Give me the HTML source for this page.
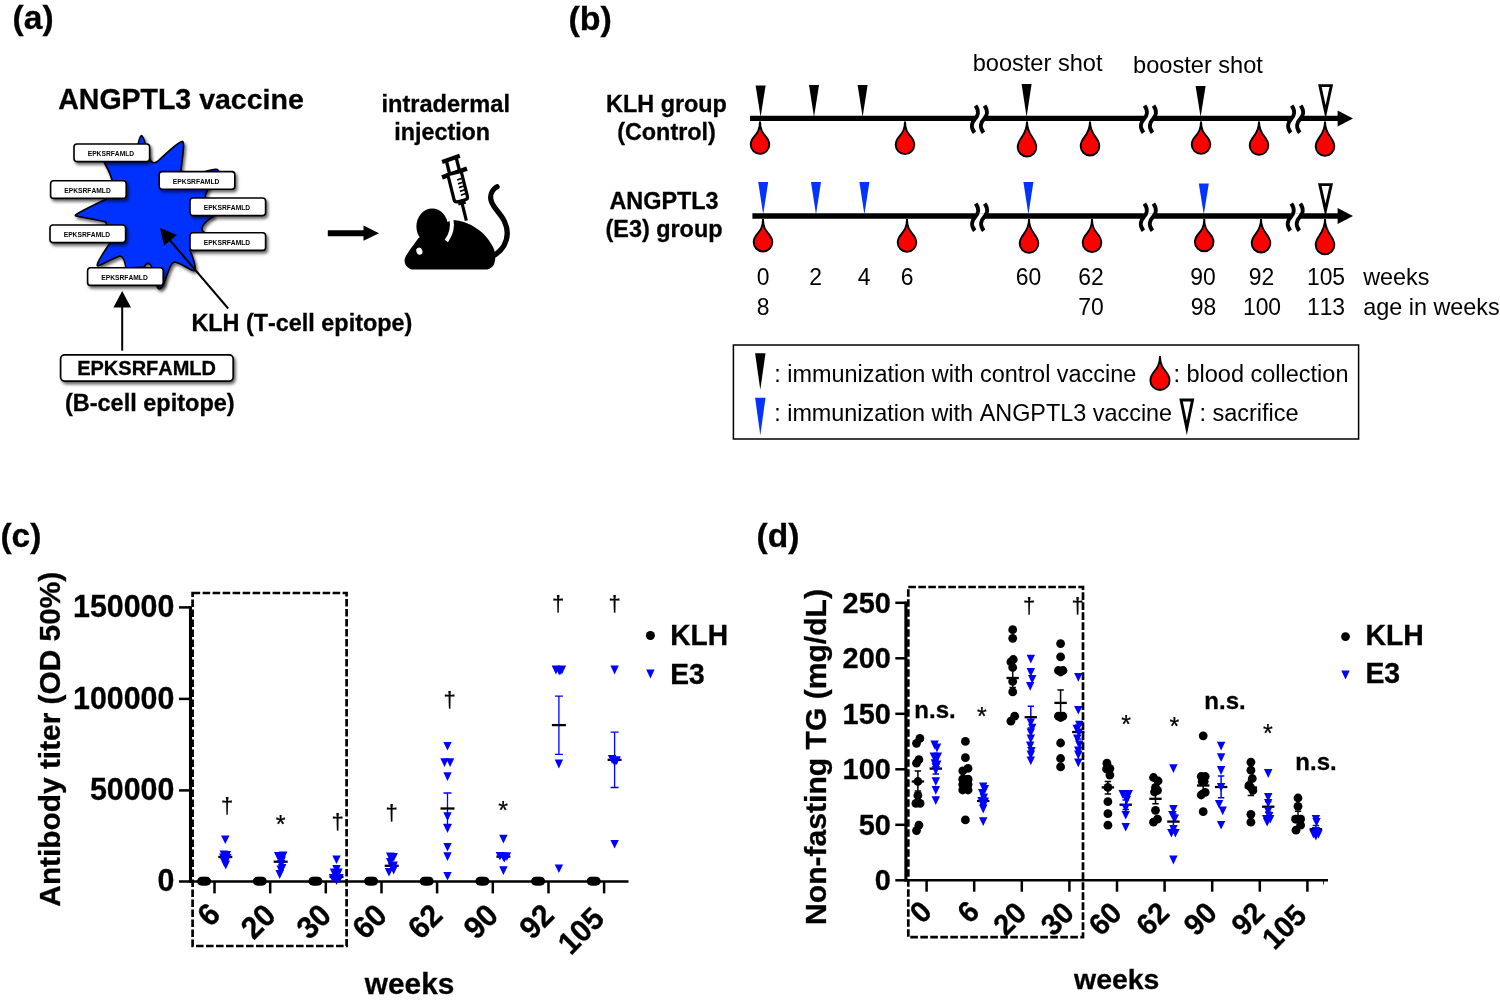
<!DOCTYPE html>
<html lang="en"><head><meta charset="utf-8"><title>ANGPTL3 vaccine figure</title>
<style>html,body{margin:0;padding:0;background:#fff;}body{width:1500px;height:1006px;overflow:hidden;}svg{display:block;font-kerning:none;font-family:'Liberation Sans', Arial, Helvetica, sans-serif;}.b{stroke:#000;stroke-width:0.3px;}.t{stroke:#000;stroke-width:0.25px;}</style></head><body>
<svg width="1500" height="1006" viewBox="0 0 1500 1006">
<defs><filter id="sh" x="-20%" y="-30%" width="150%" height="180%"><feDropShadow dx="1.8" dy="2.4" stdDeviation="1.8" flood-color="#000" flood-opacity="0.6"/></filter></defs>
<rect width="1500" height="1006" fill="#fff"/>
<g id="panel-a">
<text x="12.6" y="28.8" font-size="33.5" font-weight="700" class="b" text-anchor="start">(a)</text>
<text transform="translate(58.25,109.4) scale(1,1.04)" font-size="28.5" font-weight="700" class="b" text-anchor="start">ANGPTL3</text>
<text x="191.26" y="109.4" font-size="28.5" font-weight="700" class="b" text-anchor="start">&#160;vaccine</text>
<text x="445.7" y="111.7" font-size="23.6" font-weight="700" class="b" text-anchor="middle">intradermal</text>
<text x="442.2" y="139.5" font-size="23.3" font-weight="700" class="b" text-anchor="middle">injection</text>
<path filter="url(#sh)" fill="#0430ff" stroke="#000" stroke-width="1.6" stroke-linejoin="round" d="M141.6,135.6 C143.5,136 146,145 149,158 C151,163 154,164 158,161 C166,154 176,143 182,141.4 C185,141 183,152 181,170 L186,178 L204,172 C209,170.4 215,168.6 217.4,169.6 C219.4,170.6 218,173 214,175 L205,196 L214,216 C209,219 203,224 202,228 C201,232 206,234 212,236 L190,250 C192,256 196,264 195,270 C193,273 184,264 175,262 C171,262 169,270 164,283 C162,289 158,291 157,286 L152,268 C150,262 147,262 144,267 L126,268 C125,262 123,256 120,256 C113,258 104,264 98,266 C95,266 101,256 110,243 L106,222 C98,220 80,217 76,216 C73,215 80,212 106,199 L112,180 C110,172 106,166 104,162 L136,160 C137,150 139,136 141.6,135.6 Z"/>
<rect filter="url(#sh)" x="74" y="144" width="75.6" height="17.6" rx="3" ry="3" fill="#fff" stroke="#000" stroke-width="1.6"/>
<text transform="translate(110.9,155.9) scale(1,1.04)" font-size="6.7" font-weight="700" text-anchor="middle" class="n">EPKSRFAMLD</text>
<rect filter="url(#sh)" x="50.6" y="180.8" width="75.6" height="17.6" rx="3" ry="3" fill="#fff" stroke="#000" stroke-width="1.6"/>
<text transform="translate(87.5,192.70000000000002) scale(1,1.04)" font-size="6.7" font-weight="700" text-anchor="middle" class="n">EPKSRFAMLD</text>
<rect filter="url(#sh)" x="50" y="225" width="75.6" height="17.6" rx="3" ry="3" fill="#fff" stroke="#000" stroke-width="1.6"/>
<text transform="translate(86.9,236.9) scale(1,1.04)" font-size="6.7" font-weight="700" text-anchor="middle" class="n">EPKSRFAMLD</text>
<rect filter="url(#sh)" x="87.6" y="267.8" width="75.6" height="17.6" rx="3" ry="3" fill="#fff" stroke="#000" stroke-width="1.6"/>
<text transform="translate(124.5,279.7) scale(1,1.04)" font-size="6.7" font-weight="700" text-anchor="middle" class="n">EPKSRFAMLD</text>
<rect filter="url(#sh)" x="159.2" y="171.6" width="75.6" height="17.6" rx="3" ry="3" fill="#fff" stroke="#000" stroke-width="1.6"/>
<text transform="translate(196.1,183.5) scale(1,1.04)" font-size="6.7" font-weight="700" text-anchor="middle" class="n">EPKSRFAMLD</text>
<rect filter="url(#sh)" x="190" y="198" width="75.6" height="17.6" rx="3" ry="3" fill="#fff" stroke="#000" stroke-width="1.6"/>
<text transform="translate(226.9,209.9) scale(1,1.04)" font-size="6.7" font-weight="700" text-anchor="middle" class="n">EPKSRFAMLD</text>
<rect filter="url(#sh)" x="190" y="232.8" width="75.6" height="17.6" rx="3" ry="3" fill="#fff" stroke="#000" stroke-width="1.6"/>
<text transform="translate(226.9,244.70000000000002) scale(1,1.04)" font-size="6.7" font-weight="700" text-anchor="middle" class="n">EPKSRFAMLD</text>
<rect filter="url(#sh)" x="60.6" y="354.9" width="172.6" height="26.2" rx="4" ry="4" fill="#fff" stroke="#000" stroke-width="1.7"/>
<text transform="translate(146.6,375) scale(1,1.04)" font-size="20" font-weight="700" class="b" text-anchor="middle">EPKSRFAMLD</text>
<text x="149.8" y="411.2" font-size="23.5" font-weight="700" class="b" text-anchor="middle">(B-cell epitope)</text>
<text transform="translate(191.4,331) scale(1,1.04)" font-size="23.4" font-weight="700" class="b" text-anchor="start">KLH</text>
<text x="239.49" y="331" font-size="23.4" font-weight="700" class="b" text-anchor="start">&#160;(T-cell&#160;epitope)</text>
<path d="M122.2,350.6 L122.2,305" stroke="#000" stroke-width="2" fill="none"/>
<path d="M122.2,291 L131,307.6 L113.4,307.6 Z" fill="#000"/>
<path d="M228.2,308.5 L168,238" stroke="#000" stroke-width="2" fill="none"/>
<path d="M160,228 L177,235 L164,245.6 Z" fill="#000"/>
<path d="M327.8,233.2 L365,233.2" stroke="#000" stroke-width="6" fill="none"/>
<path d="M379,233.2 L363.5,225.6 L363.5,240.8 Z" fill="#000"/>
<g id="mouse">
<path d="M497,186.8 C491.5,190 489.6,196 491.4,201.5 C493.5,208 501,214 504.5,221.5 C508,229 508,238 504,245.5 C501.5,250 497.5,253.5 492,256.5" fill="none" stroke="#000" stroke-width="5.3" stroke-linecap="round"/>
<path d="M452.2,220 C470,221 486,232 493.5,248 C496,254 496,262 493,266 C491,268.5 488,269.6 485,269.6 L414,269.6 C408,269.6 403,264 405,258 C407,253 413,246 418.5,238 L440,225 Z" fill="#000"/>
<path d="M451.4,219 C453,227 451.4,234 446.4,241" fill="none" stroke="#fff" stroke-width="4"/>
<ellipse cx="432.2" cy="226.4" rx="15.8" ry="18" fill="#000"/>
<ellipse cx="419.4" cy="251.2" rx="3" ry="3.6" fill="#fff" transform="rotate(-20 419.4 251.2)"/>
<g transform="translate(454.5,173) rotate(-14)">
<rect x="-9.4" y="-16.7" width="18.8" height="4.1" fill="#000" transform="rotate(-5.5 0.5 -14.6)"/>
<rect x="-6.6" y="-14" width="3.3" height="13" fill="#000"/>
<rect x="3.7" y="-15" width="3.3" height="14" fill="#000"/>
<rect x="-13.2" y="-2.2" width="26.4" height="4.4" fill="#000" transform="rotate(-5 0 0)"/>
<path d="M-6.9,0 L-6.9,25.6 Q-6.9,28.6 -3.9,28.6 L3.9,28.6 Q6.9,28.6 6.9,25.6 L6.9,0 Z" fill="#fff" stroke="#000" stroke-width="3.2"/>
<rect x="0.8" y="6.4" width="5" height="1.7" fill="#000" transform="rotate(-5 3.3 7.2)"/>
<rect x="0.8" y="10.3" width="5" height="1.7" fill="#000" transform="rotate(-5 3.3 11.1)"/>
<rect x="0.8" y="14.2" width="5" height="1.7" fill="#000" transform="rotate(-5 3.3 15.0)"/>
<rect x="0.8" y="18.1" width="5" height="1.7" fill="#000" transform="rotate(-5 3.3 18.9)"/>
<rect x="0.8" y="22.0" width="5" height="1.7" fill="#000" transform="rotate(-5 3.3 22.8)"/>
<rect x="-3.8" y="29" width="7.6" height="3.6" fill="#000"/>
<rect x="-1.6" y="32" width="3.2" height="17" fill="#000"/>
</g>
</g>
</g>
<g id="panel-b">
<text x="568.4" y="29.6" font-size="34" font-weight="700" class="b" text-anchor="start">(b)</text>
<text x="1037.6" y="71" font-size="23.6" text-anchor="middle">booster shot</text>
<text x="1198" y="73" font-size="23.6" text-anchor="middle">booster shot</text>
<text transform="translate(606.06,112.4) scale(1,1.04)" font-size="23.4" font-weight="700" class="b" text-anchor="start">KLH</text>
<text x="654.15" y="112.4" font-size="23.4" font-weight="700" class="b" text-anchor="start">&#160;group</text>
<text x="666.5" y="139.6" font-size="23.4" font-weight="700" class="b" text-anchor="middle">(Control)</text>
<text transform="translate(664,209) scale(1,1.04)" font-size="23.4" font-weight="700" class="b" text-anchor="middle">ANGPTL3</text>
<text x="664" y="237" font-size="23.4" font-weight="700" class="b" text-anchor="middle">(E3) group</text>
<path d="M750,118.4 L1340,118.4" stroke="#000" stroke-width="5.4" fill="none"/>
<path d="M1353,118.4 L1337.6,110.4 L1337.6,126.4 Z" fill="#000"/>
<path d="M752.4,216 L1340,216" stroke="#000" stroke-width="5.4" fill="none"/>
<path d="M1353,216 L1337.6,208 L1337.6,224 Z" fill="#000"/>
<rect x="974.9" y="115.2" width="9" height="8" fill="#fff"/>
<path d="M975.5,105.6 C979.5,111.2 977.9,116.2 974.9,119.2 C971.9,122.2 970.3,127.2 974.5,132.7" fill="none" stroke="#000" stroke-width="4"/>
<path d="M984.5,105.6 C988.5,111.2 986.9,116.2 983.9,119.2 C980.9,122.2 979.3,127.2 983.5,132.7" fill="none" stroke="#000" stroke-width="4"/>
<rect x="1143.9" y="115.2" width="9" height="8" fill="#fff"/>
<path d="M1144.5,105.6 C1148.5,111.2 1146.9,116.2 1143.9,119.2 C1140.9,122.2 1139.3,127.2 1143.5,132.7" fill="none" stroke="#000" stroke-width="4"/>
<path d="M1153.5,105.6 C1157.5,111.2 1155.9,116.2 1152.9,119.2 C1149.9,122.2 1148.3,127.2 1152.5,132.7" fill="none" stroke="#000" stroke-width="4"/>
<rect x="1291.1" y="115.2" width="9" height="8" fill="#fff"/>
<path d="M1291.7,105.6 C1295.7,111.2 1294.1,116.2 1291.1,119.2 C1288.1,122.2 1286.5,127.2 1290.7,132.7" fill="none" stroke="#000" stroke-width="4"/>
<path d="M1300.7,105.6 C1304.7,111.2 1303.1,116.2 1300.1,119.2 C1297.1,122.2 1295.5,127.2 1299.7,132.7" fill="none" stroke="#000" stroke-width="4"/>
<rect x="975.1" y="213.2" width="9" height="8" fill="#fff"/>
<path d="M975.7,203.6 C979.7,209.2 978.1,214.2 975.1,217.2 C972.1,220.2 970.5,225.2 974.7,230.7" fill="none" stroke="#000" stroke-width="4"/>
<path d="M984.7,203.6 C988.7,209.2 987.1,214.2 984.1,217.2 C981.1,220.2 979.5,225.2 983.7,230.7" fill="none" stroke="#000" stroke-width="4"/>
<rect x="1143.8" y="213.2" width="9" height="8" fill="#fff"/>
<path d="M1144.4,203.6 C1148.4,209.2 1146.8,214.2 1143.8,217.2 C1140.8,220.2 1139.2,225.2 1143.4,230.7" fill="none" stroke="#000" stroke-width="4"/>
<path d="M1153.4,203.6 C1157.4,209.2 1155.8,214.2 1152.8,217.2 C1149.8,220.2 1148.2,225.2 1152.4,230.7" fill="none" stroke="#000" stroke-width="4"/>
<rect x="1290.7" y="213.2" width="9" height="8" fill="#fff"/>
<path d="M1291.3,203.6 C1295.3,209.2 1293.7,214.2 1290.7,217.2 C1287.7,220.2 1286.1,225.2 1290.3,230.7" fill="none" stroke="#000" stroke-width="4"/>
<path d="M1300.3,203.6 C1304.3,209.2 1302.7,214.2 1299.7,217.2 C1296.7,220.2 1295.1,225.2 1299.3,230.7" fill="none" stroke="#000" stroke-width="4"/>
<path d="M755.6,85.4 L765.6,85.4 L760.6,117 Z" fill="#000"/>
<path d="M809.0,85 L819.0,85 L814,117 Z" fill="#000"/>
<path d="M857.6,85 L867.6,85 L862.6,117 Z" fill="#000"/>
<path d="M1021.5999999999999,84 L1031.6,84 L1026.6,117 Z" fill="#000"/>
<path d="M1195.6,86 L1205.6,86 L1200.6,117 Z" fill="#000"/>
<path d="M1318.10,84.20 L1333.10,84.20 L1325.60,119.00 Z" fill="#000"/>
<path d="M1321.69,87.10 L1329.51,87.10 L1325.60,105.24 Z" fill="#fff"/>
<path d="M758.2,182 L768.2,182 L763.2,214.6 Z" fill="#0433ff"/>
<path d="M811.0,182 L821.0,182 L816,214.6 Z" fill="#0433ff"/>
<path d="M859.4,182 L869.4,182 L864.4,214.6 Z" fill="#0433ff"/>
<path d="M1023.4000000000001,182 L1033.4,182 L1028.4,214.6 Z" fill="#0433ff"/>
<path d="M1198.8,183.6 L1208.8,183.6 L1203.8,214.6 Z" fill="#0433ff"/>
<path d="M1318.00,183.20 L1333.00,183.20 L1325.50,217.00 Z" fill="#000"/>
<path d="M1321.61,186.10 L1329.39,186.10 L1325.50,203.61 Z" fill="#fff"/>
<path d="M760,121.5 C760,136.5 750.7,135.1 750.7,144.6 A9.3,9.3 0 0 0 769.3,144.6 C769.3,135.1 760,136.5 760,121.5 Z" fill="#ff0000" stroke="#000" stroke-width="1.9" stroke-linejoin="miter" stroke-miterlimit="10"/>
<path d="M905,121.5 C905,136.5 895.7,135.3 895.7,144.8 A9.3,9.3 0 0 0 914.3,144.8 C914.3,135.3 905,136.5 905,121.5 Z" fill="#ff0000" stroke="#000" stroke-width="1.9" stroke-linejoin="miter" stroke-miterlimit="10"/>
<path d="M1027,121.5 C1027,136.5 1017.7,137.7 1017.7,147.2 A9.3,9.3 0 0 0 1036.3,147.2 C1036.3,137.7 1027,136.5 1027,121.5 Z" fill="#ff0000" stroke="#000" stroke-width="1.9" stroke-linejoin="miter" stroke-miterlimit="10"/>
<path d="M1090,121.5 C1090,136.5 1080.7,136.7 1080.7,146.2 A9.3,9.3 0 0 0 1099.3,146.2 C1099.3,136.7 1090,136.5 1090,121.5 Z" fill="#ff0000" stroke="#000" stroke-width="1.9" stroke-linejoin="miter" stroke-miterlimit="10"/>
<path d="M1201,121.5 C1201,136.5 1191.7,135.1 1191.7,144.6 A9.3,9.3 0 0 0 1210.3,144.6 C1210.3,135.1 1201,136.5 1201,121.5 Z" fill="#ff0000" stroke="#000" stroke-width="1.9" stroke-linejoin="miter" stroke-miterlimit="10"/>
<path d="M1259,121.5 C1259,136.5 1249.7,136.1 1249.7,145.6 A9.3,9.3 0 0 0 1268.3,145.6 C1268.3,136.1 1259,136.5 1259,121.5 Z" fill="#ff0000" stroke="#000" stroke-width="1.9" stroke-linejoin="miter" stroke-miterlimit="10"/>
<path d="M1325,121.5 C1325,136.5 1315.7,137.1 1315.7,146.6 A9.3,9.3 0 0 0 1334.3,146.6 C1334.3,137.1 1325,136.5 1325,121.5 Z" fill="#ff0000" stroke="#000" stroke-width="1.9" stroke-linejoin="miter" stroke-miterlimit="10"/>
<path d="M763,219 C763,234.0 753.7,232.7 753.7,242.2 A9.3,9.3 0 0 0 772.3,242.2 C772.3,232.7 763,234.0 763,219 Z" fill="#ff0000" stroke="#000" stroke-width="1.9" stroke-linejoin="miter" stroke-miterlimit="10"/>
<path d="M907,219 C907,234.0 897.7,233.1 897.7,242.6 A9.3,9.3 0 0 0 916.3,242.6 C916.3,233.1 907,234.0 907,219 Z" fill="#ff0000" stroke="#000" stroke-width="1.9" stroke-linejoin="miter" stroke-miterlimit="10"/>
<path d="M1029,219 C1029,234.0 1019.7,234.1 1019.7,243.6 A9.3,9.3 0 0 0 1038.3,243.6 C1038.3,234.1 1029,234.0 1029,219 Z" fill="#ff0000" stroke="#000" stroke-width="1.9" stroke-linejoin="miter" stroke-miterlimit="10"/>
<path d="M1092,219 C1092,234.0 1082.7,233.3 1082.7,242.8 A9.3,9.3 0 0 0 1101.3,242.8 C1101.3,233.3 1092,234.0 1092,219 Z" fill="#ff0000" stroke="#000" stroke-width="1.9" stroke-linejoin="miter" stroke-miterlimit="10"/>
<path d="M1204.2,219 C1204.2,234.0 1194.9,232.5 1194.9,242.0 A9.3,9.3 0 0 0 1213.5,242.0 C1213.5,232.5 1204.2,234.0 1204.2,219 Z" fill="#ff0000" stroke="#000" stroke-width="1.9" stroke-linejoin="miter" stroke-miterlimit="10"/>
<path d="M1261,219 C1261,234.0 1251.7,233.7 1251.7,243.2 A9.3,9.3 0 0 0 1270.3,243.2 C1270.3,233.7 1261,234.0 1261,219 Z" fill="#ff0000" stroke="#000" stroke-width="1.9" stroke-linejoin="miter" stroke-miterlimit="10"/>
<path d="M1325,219 C1325,234.0 1315.7,235.5 1315.7,245.0 A9.3,9.3 0 0 0 1334.3,245.0 C1334.3,235.5 1325,234.0 1325,219 Z" fill="#ff0000" stroke="#000" stroke-width="1.9" stroke-linejoin="miter" stroke-miterlimit="10"/>
<text transform="translate(763,285.2) scale(1,1.04)" font-size="22.9" text-anchor="middle">0</text>
<text transform="translate(815.6,285.2) scale(1,1.04)" font-size="22.9" text-anchor="middle">2</text>
<text transform="translate(864,285.2) scale(1,1.04)" font-size="22.9" text-anchor="middle">4</text>
<text transform="translate(907,285.2) scale(1,1.04)" font-size="22.9" text-anchor="middle">6</text>
<text transform="translate(1028.4,285.2) scale(1,1.04)" font-size="22.9" text-anchor="middle">60</text>
<text transform="translate(1091,285.2) scale(1,1.04)" font-size="22.9" text-anchor="middle">62</text>
<text transform="translate(1203,285.2) scale(1,1.04)" font-size="22.9" text-anchor="middle">90</text>
<text transform="translate(1261.6,285.2) scale(1,1.04)" font-size="22.9" text-anchor="middle">92</text>
<text transform="translate(1326,285.2) scale(1,1.04)" font-size="22.9" text-anchor="middle">105</text>
<text transform="translate(763,315.2) scale(1,1.04)" font-size="22.9" text-anchor="middle">8</text>
<text transform="translate(1091,315.2) scale(1,1.04)" font-size="22.9" text-anchor="middle">70</text>
<text transform="translate(1203.4,315.2) scale(1,1.04)" font-size="22.9" text-anchor="middle">98</text>
<text transform="translate(1262,315.2) scale(1,1.04)" font-size="22.9" text-anchor="middle">100</text>
<text transform="translate(1326,315.2) scale(1,1.04)" font-size="22.9" text-anchor="middle">113</text>
<text x="1363.2" y="285" font-size="23.4" text-anchor="start">weeks</text>
<text x="1363.2" y="315" font-size="23.4" text-anchor="start">age in weeks</text>
<rect x="733.4" y="345" width="625.2" height="94" fill="#fff" stroke="#000" stroke-width="1.5"/>
<path d="M755.0999999999999,353.2 L765.5,353.2 L760.3,389.8 Z" fill="#000"/>
<path d="M755.0999999999999,397.8 L765.5,397.8 L760.3,435.2 Z" fill="#0433ff"/>
<text x="774.2" y="381.8" font-size="23.45" text-anchor="start">: immunization with control vaccine</text>
<text x="774.2" y="420.6" font-size="23.4" text-anchor="start">:&#160;immunization&#160;with&#160;</text>
<text transform="translate(979.67,420.6) scale(1,1.04)" font-size="23.4" text-anchor="start">ANGPTL3</text>
<text x="1086.31" y="420.6" font-size="23.4" text-anchor="start">&#160;vaccine</text>
<path d="M1160,356 C1160,371.0 1150.4,370.9 1150.4,380.4 A9.6,9.6 0 0 0 1169.6,380.4 C1169.6,370.9 1160,371.0 1160,356 Z" fill="#ff0000" stroke="#000" stroke-width="1.9" stroke-linejoin="miter" stroke-miterlimit="10"/>
<text x="1173.4" y="382.4" font-size="23.5" text-anchor="start">: blood collection</text>
<path d="M1179.30,398.60 L1194.30,398.60 L1186.80,435.20 Z" fill="#000"/>
<path d="M1182.85,401.50 L1190.75,401.50 L1186.80,420.75 Z" fill="#fff"/>
<text x="1199.4" y="420.6" font-size="23.5" text-anchor="start">: sacrifice</text>
</g>
<g id="panel-c">
<text x="0.4" y="546.6" font-size="33.5" font-weight="700" class="b" text-anchor="start">(c)</text>
<path d="M190.5,606.2 L190.5,882.75" stroke="#000" stroke-width="3.1" fill="none"/>
<path d="M189.55,881.5 L628.5,881.5" stroke="#000" stroke-width="2.6" fill="none"/>
<path d="M179,607.4 L190.8,607.4" stroke="#000" stroke-width="2.5"/>
<text transform="translate(174.4,617.3) scale(1,1.04)" font-size="30.4" font-weight="700" text-anchor="end" class="b">150000</text>
<path d="M179,698.9 L190.8,698.9" stroke="#000" stroke-width="2.5"/>
<text transform="translate(174.4,708.8) scale(1,1.04)" font-size="30.4" font-weight="700" text-anchor="end" class="b">100000</text>
<path d="M179,790.4 L190.8,790.4" stroke="#000" stroke-width="2.5"/>
<text transform="translate(174.4,800.3) scale(1,1.04)" font-size="30.4" font-weight="700" text-anchor="end" class="b">50000</text>
<path d="M179,881.5 L190.8,881.5" stroke="#000" stroke-width="2.5"/>
<text transform="translate(174.4,891.4) scale(1,1.04)" font-size="30.4" font-weight="700" text-anchor="end" class="b">0</text>
<path d="M214.5,881.5 L214.5,893.4" stroke="#000" stroke-width="2.5"/>
<text class="b" transform="translate(208.5,914.5) rotate(-45) translate(0,10.7) scale(1,1.04)" font-size="30" font-weight="700" text-anchor="middle">6</text>
<path d="M270.2,881.5 L270.2,893.4" stroke="#000" stroke-width="2.5"/>
<text class="b" transform="translate(258.1,921.4) rotate(-45) translate(0,10.7) scale(1,1.04)" font-size="30" font-weight="700" text-anchor="middle">20</text>
<path d="M325.8,881.5 L325.8,893.4" stroke="#000" stroke-width="2.5"/>
<text class="b" transform="translate(313.7,921.4) rotate(-45) translate(0,10.7) scale(1,1.04)" font-size="30" font-weight="700" text-anchor="middle">30</text>
<path d="M381.5,881.5 L381.5,893.4" stroke="#000" stroke-width="2.5"/>
<text class="b" transform="translate(369.4,921.4) rotate(-45) translate(0,10.7) scale(1,1.04)" font-size="30" font-weight="700" text-anchor="middle">60</text>
<path d="M437.1,881.5 L437.1,893.4" stroke="#000" stroke-width="2.5"/>
<text class="b" transform="translate(425.0,921.4) rotate(-45) translate(0,10.7) scale(1,1.04)" font-size="30" font-weight="700" text-anchor="middle">62</text>
<path d="M492.8,881.5 L492.8,893.4" stroke="#000" stroke-width="2.5"/>
<text class="b" transform="translate(480.7,921.4) rotate(-45) translate(0,10.7) scale(1,1.04)" font-size="30" font-weight="700" text-anchor="middle">90</text>
<path d="M548.5,881.5 L548.5,893.4" stroke="#000" stroke-width="2.5"/>
<text class="b" transform="translate(536.4,921.4) rotate(-45) translate(0,10.7) scale(1,1.04)" font-size="30" font-weight="700" text-anchor="middle">92</text>
<path d="M604.1,881.5 L604.1,893.4" stroke="#000" stroke-width="2.5"/>
<text class="b" transform="translate(580.9,930.7) rotate(-45) translate(0,10.7) scale(1,1.04)" font-size="30" font-weight="700" text-anchor="middle">105</text>
<text class="b" transform="translate(59.6,739.2) rotate(-90)" font-size="29.85" font-weight="700" text-anchor="middle">Antibody titer (OD 50%)</text>
<text x="409.6" y="994.3" font-size="29.8" font-weight="700" text-anchor="middle" class="b">weeks</text>
<circle cx="650.4" cy="635.5" r="4.5" fill="#000"/>
<text transform="translate(670.2,645.3) scale(1,1.04)" font-size="28.2" font-weight="700" text-anchor="start" class="b">KLH</text>
<path d="M646.2,669.6 L654.6,669.6 L650.4,678.4 Z" fill="#0000ff"/>
<text transform="translate(670.2,683.5) scale(1,1.04)" font-size="28.2" font-weight="700" text-anchor="start" class="b">E3</text>
<circle cx="201.5" cy="881.2" r="4.4" fill="#000"/>
<circle cx="202.9" cy="881.2" r="4.4" fill="#000"/>
<circle cx="204.1" cy="881.2" r="4.4" fill="#000"/>
<circle cx="205.3" cy="881.2" r="4.4" fill="#000"/>
<circle cx="206.7" cy="881.2" r="4.4" fill="#000"/>
<circle cx="257.2" cy="881.2" r="4.4" fill="#000"/>
<circle cx="258.6" cy="881.2" r="4.4" fill="#000"/>
<circle cx="259.8" cy="881.2" r="4.4" fill="#000"/>
<circle cx="261.0" cy="881.2" r="4.4" fill="#000"/>
<circle cx="262.4" cy="881.2" r="4.4" fill="#000"/>
<circle cx="312.8" cy="881.2" r="4.4" fill="#000"/>
<circle cx="314.2" cy="881.2" r="4.4" fill="#000"/>
<circle cx="315.4" cy="881.2" r="4.4" fill="#000"/>
<circle cx="316.6" cy="881.2" r="4.4" fill="#000"/>
<circle cx="318.0" cy="881.2" r="4.4" fill="#000"/>
<circle cx="368.5" cy="881.2" r="4.4" fill="#000"/>
<circle cx="369.9" cy="881.2" r="4.4" fill="#000"/>
<circle cx="371.1" cy="881.2" r="4.4" fill="#000"/>
<circle cx="372.3" cy="881.2" r="4.4" fill="#000"/>
<circle cx="373.7" cy="881.2" r="4.4" fill="#000"/>
<circle cx="424.1" cy="881.2" r="4.4" fill="#000"/>
<circle cx="425.5" cy="881.2" r="4.4" fill="#000"/>
<circle cx="426.7" cy="881.2" r="4.4" fill="#000"/>
<circle cx="427.9" cy="881.2" r="4.4" fill="#000"/>
<circle cx="429.3" cy="881.2" r="4.4" fill="#000"/>
<circle cx="479.8" cy="881.2" r="4.4" fill="#000"/>
<circle cx="481.2" cy="881.2" r="4.4" fill="#000"/>
<circle cx="482.4" cy="881.2" r="4.4" fill="#000"/>
<circle cx="483.6" cy="881.2" r="4.4" fill="#000"/>
<circle cx="485.0" cy="881.2" r="4.4" fill="#000"/>
<circle cx="535.5" cy="881.2" r="4.4" fill="#000"/>
<circle cx="536.9" cy="881.2" r="4.4" fill="#000"/>
<circle cx="538.1" cy="881.2" r="4.4" fill="#000"/>
<circle cx="539.3" cy="881.2" r="4.4" fill="#000"/>
<circle cx="540.7" cy="881.2" r="4.4" fill="#000"/>
<circle cx="591.1" cy="881.2" r="4.4" fill="#000"/>
<circle cx="592.5" cy="881.2" r="4.4" fill="#000"/>
<circle cx="593.7" cy="881.2" r="4.4" fill="#000"/>
<circle cx="594.9" cy="881.2" r="4.4" fill="#000"/>
<circle cx="596.3" cy="881.2" r="4.4" fill="#000"/>
<path d="M218.3,857.0 L232.3,857.0" stroke="#000" stroke-width="2.3" fill="none"/>
<path d="M221.1,835.4 L229.5,835.4 L225.3,844.1 Z" fill="#0000ff"/>
<path d="M219.6,850.6 L228.0,850.6 L223.8,859.4 Z" fill="#0000ff"/>
<path d="M222.6,851.1 L231.0,851.1 L226.8,859.9 Z" fill="#0000ff"/>
<path d="M219.1,853.6 L227.5,853.6 L223.3,862.4 Z" fill="#0000ff"/>
<path d="M223.1,854.1 L231.5,854.1 L227.3,862.9 Z" fill="#0000ff"/>
<path d="M221.1,856.1 L229.5,856.1 L225.3,864.9 Z" fill="#0000ff"/>
<path d="M220.1,858.1 L228.5,858.1 L224.3,866.9 Z" fill="#0000ff"/>
<path d="M221.6,860.6 L230.0,860.6 L225.8,869.4 Z" fill="#0000ff"/>
<text x="227.0" y="813.2" font-size="22" text-anchor="middle" class="t">&#8224;</text>
<path d="M273.7,861.7 L287.7,861.7" stroke="#000" stroke-width="2.3" fill="none"/>
<path d="M274.0,852.1 L282.4,852.1 L278.2,860.9 Z" fill="#0000ff"/>
<path d="M279.0,851.6 L287.4,851.6 L283.2,860.4 Z" fill="#0000ff"/>
<path d="M276.5,854.1 L284.9,854.1 L280.7,862.9 Z" fill="#0000ff"/>
<path d="M277.5,856.6 L285.9,856.6 L281.7,865.4 Z" fill="#0000ff"/>
<path d="M277.0,860.1 L285.4,860.1 L281.2,868.9 Z" fill="#0000ff"/>
<path d="M278.0,864.1 L286.4,864.1 L282.2,872.9 Z" fill="#0000ff"/>
<path d="M275.5,870.1 L283.9,870.1 L279.7,878.9 Z" fill="#0000ff"/>
<path d="M276.5,865.6 L284.9,865.6 L280.7,874.4 Z" fill="#0000ff"/>
<text x="280.5" y="832.8" font-size="25" text-anchor="middle" class="t">*</text>
<path d="M329.5,877.0 L343.5,877.0" stroke="#000" stroke-width="2.3" fill="none"/>
<path d="M332.3,855.4 L340.7,855.4 L336.5,864.1 Z" fill="#0000ff"/>
<path d="M332.3,865.1 L340.7,865.1 L336.5,873.9 Z" fill="#0000ff"/>
<path d="M329.8,868.6 L338.2,868.6 L334.0,877.4 Z" fill="#0000ff"/>
<path d="M334.3,868.6 L342.7,868.6 L338.5,877.4 Z" fill="#0000ff"/>
<path d="M331.8,872.1 L340.2,872.1 L336.0,880.9 Z" fill="#0000ff"/>
<path d="M328.8,874.1 L337.2,874.1 L333.0,882.9 Z" fill="#0000ff"/>
<path d="M335.3,874.1 L343.7,874.1 L339.5,882.9 Z" fill="#0000ff"/>
<path d="M332.3,876.1 L340.7,876.1 L336.5,884.9 Z" fill="#0000ff"/>
<text x="337.7" y="829.2" font-size="22" text-anchor="middle" class="t">&#8224;</text>
<path d="M384.7,865.8 L398.7,865.8" stroke="#000" stroke-width="2.3" fill="none"/>
<path d="M386.0,852.6 L394.4,852.6 L390.2,861.4 Z" fill="#0000ff"/>
<path d="M389.5,852.9 L397.9,852.9 L393.7,861.6 Z" fill="#0000ff"/>
<path d="M386.0,858.1 L394.4,858.1 L390.2,866.9 Z" fill="#0000ff"/>
<path d="M389.5,861.4 L397.9,861.4 L393.7,870.1 Z" fill="#0000ff"/>
<path d="M389.5,865.6 L397.9,865.6 L393.7,874.4 Z" fill="#0000ff"/>
<path d="M384.8,867.9 L393.2,867.9 L389.0,876.6 Z" fill="#0000ff"/>
<path d="M388.0,863.1 L396.4,863.1 L392.2,871.9 Z" fill="#0000ff"/>
<text x="391.5" y="820.4" font-size="22" text-anchor="middle" class="t">&#8224;</text>
<path d="M447.5,793.0 L447.5,824.3 M443.5,793.0 L451.5,793.0 M443.5,824.3 L451.5,824.3" stroke="#0000ff" stroke-width="1.3" fill="none"/>
<path d="M440.5,808.5 L454.5,808.5" stroke="#000" stroke-width="2.3" fill="none"/>
<path d="M443.3,741.9 L451.7,741.9 L447.5,750.6 Z" fill="#0000ff"/>
<path d="M440.3,758.2 L448.7,758.2 L444.5,767.0 Z" fill="#0000ff"/>
<path d="M445.9,758.2 L454.3,758.2 L450.1,767.0 Z" fill="#0000ff"/>
<path d="M443.3,772.2 L451.7,772.2 L447.5,781.0 Z" fill="#0000ff"/>
<path d="M443.3,812.2 L451.7,812.2 L447.5,821.0 Z" fill="#0000ff"/>
<path d="M443.3,824.2 L451.7,824.2 L447.5,833.0 Z" fill="#0000ff"/>
<path d="M443.3,842.9 L451.7,842.9 L447.5,851.6 Z" fill="#0000ff"/>
<path d="M443.3,852.2 L451.7,852.2 L447.5,861.0 Z" fill="#0000ff"/>
<path d="M443.3,871.9 L451.7,871.9 L447.5,880.6 Z" fill="#0000ff"/>
<text x="449.5" y="707.4" font-size="22" text-anchor="middle" class="t">&#8224;</text>
<path d="M496.4,856.6 L510.4,856.6" stroke="#000" stroke-width="2.3" fill="none"/>
<path d="M499.2,834.8 L507.6,834.8 L503.4,843.5 Z" fill="#0000ff"/>
<path d="M495.7,851.9 L504.1,851.9 L499.9,860.6 Z" fill="#0000ff"/>
<path d="M499.2,852.6 L507.6,852.6 L503.4,861.4 Z" fill="#0000ff"/>
<path d="M502.7,852.2 L511.1,852.2 L506.9,861.0 Z" fill="#0000ff"/>
<path d="M500.2,853.6 L508.6,853.6 L504.4,862.4 Z" fill="#0000ff"/>
<path d="M499.2,866.2 L507.6,866.2 L503.4,875.0 Z" fill="#0000ff"/>
<text x="503.0" y="819.4" font-size="25" text-anchor="middle" class="t">*</text>
<path d="M558.9,696.2 L558.9,754.4 M554.9,696.2 L562.9,696.2 M554.9,754.4 L562.9,754.4" stroke="#0000ff" stroke-width="1.3" fill="none"/>
<path d="M551.9,725.1 L565.9,725.1" stroke="#000" stroke-width="2.3" fill="none"/>
<path d="M551.7,665.6 L560.1,665.6 L555.9,674.4 Z" fill="#0000ff"/>
<path d="M554.7,666.0 L563.1,666.0 L558.9,674.8 Z" fill="#0000ff"/>
<path d="M557.7,665.6 L566.1,665.6 L561.9,674.4 Z" fill="#0000ff"/>
<path d="M555.7,666.6 L564.1,666.6 L559.9,675.4 Z" fill="#0000ff"/>
<path d="M554.7,759.6 L563.1,759.6 L558.9,768.4 Z" fill="#0000ff"/>
<path d="M554.7,864.4 L563.1,864.4 L558.9,873.1 Z" fill="#0000ff"/>
<text x="558.0" y="610.9" font-size="22" text-anchor="middle" class="t">&#8224;</text>
<path d="M614.6,732.1 L614.6,787.5 M610.6,732.1 L618.6,732.1 M610.6,787.5 L618.6,787.5" stroke="#0000ff" stroke-width="1.3" fill="none"/>
<path d="M607.6,759.8 L621.6,759.8" stroke="#000" stroke-width="2.3" fill="none"/>
<path d="M610.4,665.6 L618.8,665.6 L614.6,674.4 Z" fill="#0000ff"/>
<path d="M607.9,755.1 L616.3,755.1 L612.1,763.9 Z" fill="#0000ff"/>
<path d="M612.4,756.2 L620.8,756.2 L616.6,765.0 Z" fill="#0000ff"/>
<path d="M610.4,757.6 L618.8,757.6 L614.6,766.4 Z" fill="#0000ff"/>
<path d="M610.4,839.9 L618.8,839.9 L614.6,848.6 Z" fill="#0000ff"/>
<text x="614.6" y="610.9" font-size="22" text-anchor="middle" class="t">&#8224;</text>
<rect x="192.6" y="593" width="154" height="353" fill="none" stroke="#000" stroke-width="2.7" stroke-dasharray="7.6 2.4"/>
</g>
<g id="panel-d">
<text x="756.6" y="546.6" font-size="33.5" font-weight="700" class="b" text-anchor="start">(d)</text>
<path d="M905.9000000000001,601.6 L905.9000000000001,881.55" stroke="#000" stroke-width="3.1" fill="none"/>
<path d="M904.95,880.3 L1328,880.3" stroke="#000" stroke-width="2.6" fill="none"/>
<path d="M895.3,602.8 L906.2,602.8" stroke="#000" stroke-width="2.5"/>
<text transform="translate(890.8,612.6) scale(1,1.04)" font-size="28.9" font-weight="700" text-anchor="end" class="b">250</text>
<path d="M895.3,658.3 L906.2,658.3" stroke="#000" stroke-width="2.5"/>
<text transform="translate(890.8,668.1) scale(1,1.04)" font-size="28.9" font-weight="700" text-anchor="end" class="b">200</text>
<path d="M895.3,713.8 L906.2,713.8" stroke="#000" stroke-width="2.5"/>
<text transform="translate(890.8,723.6) scale(1,1.04)" font-size="28.9" font-weight="700" text-anchor="end" class="b">150</text>
<path d="M895.3,769.3 L906.2,769.3" stroke="#000" stroke-width="2.5"/>
<text transform="translate(890.8,779.1) scale(1,1.04)" font-size="28.9" font-weight="700" text-anchor="end" class="b">100</text>
<path d="M895.3,824.8 L906.2,824.8" stroke="#000" stroke-width="2.5"/>
<text transform="translate(890.8,834.6) scale(1,1.04)" font-size="28.9" font-weight="700" text-anchor="end" class="b">50</text>
<path d="M895.3,880.3 L906.2,880.3" stroke="#000" stroke-width="2.5"/>
<text transform="translate(890.8,890.1) scale(1,1.04)" font-size="28.9" font-weight="700" text-anchor="end" class="b">0</text>
<path d="M926.6,880.3 L926.6,891.7" stroke="#000" stroke-width="2.5"/>
<text class="b" transform="translate(920.6,911.8) rotate(-45) translate(0,10.3) scale(1,1.04)" font-size="28.7" font-weight="700" text-anchor="middle">0</text>
<path d="M974.2,880.3 L974.2,891.7" stroke="#000" stroke-width="2.5"/>
<text class="b" transform="translate(968.2,911.8) rotate(-45) translate(0,10.3) scale(1,1.04)" font-size="28.7" font-weight="700" text-anchor="middle">6</text>
<path d="M1021.8,880.3 L1021.8,891.7" stroke="#000" stroke-width="2.5"/>
<text class="b" transform="translate(1009.7,918.7) rotate(-45) translate(0,10.3) scale(1,1.04)" font-size="28.7" font-weight="700" text-anchor="middle">20</text>
<path d="M1069.4,880.3 L1069.4,891.7" stroke="#000" stroke-width="2.5"/>
<text class="b" transform="translate(1057.3,918.7) rotate(-45) translate(0,10.3) scale(1,1.04)" font-size="28.7" font-weight="700" text-anchor="middle">30</text>
<path d="M1117.0,880.3 L1117.0,891.7" stroke="#000" stroke-width="2.5"/>
<text class="b" transform="translate(1104.9,918.7) rotate(-45) translate(0,10.3) scale(1,1.04)" font-size="28.7" font-weight="700" text-anchor="middle">60</text>
<path d="M1164.6,880.3 L1164.6,891.7" stroke="#000" stroke-width="2.5"/>
<text class="b" transform="translate(1152.5,918.7) rotate(-45) translate(0,10.3) scale(1,1.04)" font-size="28.7" font-weight="700" text-anchor="middle">62</text>
<path d="M1212.2,880.3 L1212.2,891.7" stroke="#000" stroke-width="2.5"/>
<text class="b" transform="translate(1200.1,918.7) rotate(-45) translate(0,10.3) scale(1,1.04)" font-size="28.7" font-weight="700" text-anchor="middle">90</text>
<path d="M1259.8,880.3 L1259.8,891.7" stroke="#000" stroke-width="2.5"/>
<text class="b" transform="translate(1247.7,918.7) rotate(-45) translate(0,10.3) scale(1,1.04)" font-size="28.7" font-weight="700" text-anchor="middle">92</text>
<path d="M1307.4,880.3 L1307.4,891.7" stroke="#000" stroke-width="2.5"/>
<text class="b" transform="translate(1284.2,926.9) rotate(-45) translate(0,10.3) scale(1,1.04)" font-size="28.7" font-weight="700" text-anchor="middle">105</text>
<path d="M1323.5,880.3 L1323.5,884.5" stroke="#000" stroke-width="0.8"/>
<text class="b" transform="translate(825.5,757.0) rotate(-90)" font-size="30.1" font-weight="700" text-anchor="middle">Non-fasting TG (mg/dL)</text>
<text x="1116.7" y="988.6" font-size="28.4" font-weight="700" text-anchor="middle" class="b">weeks</text>
<circle cx="1345.5" cy="636.6" r="4.4" fill="#000"/>
<text transform="translate(1365.4,645.1) scale(1,1.04)" font-size="28.4" font-weight="700" text-anchor="start" class="b">KLH</text>
<path d="M1341.3,670.6 L1349.7,670.6 L1345.5,679.4 Z" fill="#0000ff"/>
<text transform="translate(1365.4,683.1) scale(1,1.04)" font-size="28.4" font-weight="700" text-anchor="start" class="b">E3</text>
<circle cx="919.9" cy="738.4" r="4.4" fill="#000"/>
<circle cx="916.5" cy="743.3" r="4.4" fill="#000"/>
<circle cx="918.9" cy="759.6" r="4.4" fill="#000"/>
<circle cx="916.5" cy="763.2" r="4.4" fill="#000"/>
<circle cx="917.9" cy="781.5" r="4.4" fill="#000"/>
<circle cx="917.9" cy="795.4" r="4.4" fill="#000"/>
<circle cx="915.9" cy="803.4" r="4.4" fill="#000"/>
<circle cx="920.1" cy="803.4" r="4.4" fill="#000"/>
<circle cx="918.9" cy="825.2" r="4.4" fill="#000"/>
<circle cx="916.5" cy="830.6" r="4.4" fill="#000"/>
<path d="M917.9,771.0 L917.9,791.0 M914.7,771.0 L921.1,771.0 M914.7,791.0 L921.1,791.0" stroke="#000" stroke-width="1.5" fill="none"/>
<path d="M911.7,781.5 L924.1,781.5" stroke="#000" stroke-width="2.3" fill="none"/>
<circle cx="965.4" cy="741.4" r="4.4" fill="#000"/>
<circle cx="965.4" cy="757.7" r="4.4" fill="#000"/>
<circle cx="968.0" cy="768.4" r="4.4" fill="#000"/>
<circle cx="962.8" cy="770.8" r="4.4" fill="#000"/>
<circle cx="962.7" cy="779.2" r="4.4" fill="#000"/>
<circle cx="968.1" cy="779.2" r="4.4" fill="#000"/>
<circle cx="962.7" cy="784.6" r="4.4" fill="#000"/>
<circle cx="968.1" cy="784.6" r="4.4" fill="#000"/>
<circle cx="962.7" cy="790.0" r="4.4" fill="#000"/>
<circle cx="968.1" cy="790.0" r="4.4" fill="#000"/>
<circle cx="965.4" cy="819.9" r="4.4" fill="#000"/>
<path d="M965.4,776.0 L965.4,787.5 M962.2,776.0 L968.6,776.0 M962.2,787.5 L968.6,787.5" stroke="#000" stroke-width="1.5" fill="none"/>
<path d="M959.2,781.8 L971.6,781.8" stroke="#000" stroke-width="2.3" fill="none"/>
<circle cx="1012.7" cy="629.7" r="4.4" fill="#000"/>
<circle cx="1012.7" cy="638.3" r="4.4" fill="#000"/>
<circle cx="1013.3" cy="659.5" r="4.4" fill="#000"/>
<circle cx="1010.9" cy="661.9" r="4.4" fill="#000"/>
<circle cx="1012.7" cy="667.5" r="4.4" fill="#000"/>
<circle cx="1012.7" cy="681.4" r="4.4" fill="#000"/>
<circle cx="1012.7" cy="691.9" r="4.4" fill="#000"/>
<circle cx="1014.7" cy="716.2" r="4.4" fill="#000"/>
<circle cx="1010.9" cy="721.2" r="4.4" fill="#000"/>
<path d="M1012.7,668.6 L1012.7,687.4 M1009.5,668.6 L1015.9,668.6 M1009.5,687.4 L1015.9,687.4" stroke="#000" stroke-width="1.5" fill="none"/>
<path d="M1006.5,678.0 L1018.9,678.0" stroke="#000" stroke-width="2.3" fill="none"/>
<circle cx="1060.6" cy="643.6" r="4.4" fill="#000"/>
<circle cx="1060.6" cy="656.9" r="4.4" fill="#000"/>
<circle cx="1058.4" cy="670.5" r="4.4" fill="#000"/>
<circle cx="1063.0" cy="670.5" r="4.4" fill="#000"/>
<circle cx="1060.6" cy="672.0" r="4.4" fill="#000"/>
<circle cx="1058.4" cy="716.2" r="4.4" fill="#000"/>
<circle cx="1062.8" cy="716.2" r="4.4" fill="#000"/>
<circle cx="1060.6" cy="717.5" r="4.4" fill="#000"/>
<circle cx="1060.6" cy="743.0" r="4.4" fill="#000"/>
<circle cx="1060.6" cy="758.5" r="4.4" fill="#000"/>
<circle cx="1060.6" cy="766.9" r="4.4" fill="#000"/>
<path d="M1060.6,689.9 L1060.6,715.8 M1057.4,689.9 L1063.8,689.9 M1057.4,715.8 L1063.8,715.8" stroke="#000" stroke-width="1.5" fill="none"/>
<path d="M1054.4,702.9 L1066.8,702.9" stroke="#000" stroke-width="2.3" fill="none"/>
<circle cx="1106.9" cy="763.2" r="4.4" fill="#000"/>
<circle cx="1106.5" cy="769.0" r="4.4" fill="#000"/>
<circle cx="1109.9" cy="768.6" r="4.4" fill="#000"/>
<circle cx="1109.9" cy="775.1" r="4.4" fill="#000"/>
<circle cx="1107.9" cy="787.4" r="4.4" fill="#000"/>
<circle cx="1107.9" cy="801.7" r="4.4" fill="#000"/>
<circle cx="1107.9" cy="813.7" r="4.4" fill="#000"/>
<circle cx="1107.9" cy="825.2" r="4.4" fill="#000"/>
<path d="M1107.9,781.5 L1107.9,794.0 M1104.7,781.5 L1111.1,781.5 M1104.7,794.0 L1111.1,794.0" stroke="#000" stroke-width="1.5" fill="none"/>
<path d="M1101.7,787.4 L1114.1,787.4" stroke="#000" stroke-width="2.3" fill="none"/>
<circle cx="1153.5" cy="777.5" r="4.4" fill="#000"/>
<circle cx="1158.1" cy="781.0" r="4.4" fill="#000"/>
<circle cx="1155.5" cy="787.4" r="4.4" fill="#000"/>
<circle cx="1157.5" cy="790.4" r="4.4" fill="#000"/>
<circle cx="1154.5" cy="792.0" r="4.4" fill="#000"/>
<circle cx="1155.5" cy="810.3" r="4.4" fill="#000"/>
<circle cx="1157.5" cy="819.2" r="4.4" fill="#000"/>
<circle cx="1153.5" cy="822.2" r="4.4" fill="#000"/>
<path d="M1155.5,793.6 L1155.5,803.7 M1152.3,793.6 L1158.7,793.6 M1152.3,803.7 L1158.7,803.7" stroke="#000" stroke-width="1.5" fill="none"/>
<path d="M1149.3,798.8 L1161.7,798.8" stroke="#000" stroke-width="2.3" fill="none"/>
<circle cx="1203.2" cy="735.8" r="4.4" fill="#000"/>
<circle cx="1201.2" cy="776.5" r="4.4" fill="#000"/>
<circle cx="1205.2" cy="776.5" r="4.4" fill="#000"/>
<circle cx="1202.2" cy="781.5" r="4.4" fill="#000"/>
<circle cx="1204.2" cy="781.5" r="4.4" fill="#000"/>
<circle cx="1205.2" cy="792.4" r="4.4" fill="#000"/>
<circle cx="1201.2" cy="795.0" r="4.4" fill="#000"/>
<circle cx="1203.2" cy="811.7" r="4.4" fill="#000"/>
<path d="M1203.2,780.0 L1203.2,791.0 M1200.0,780.0 L1206.4,780.0 M1200.0,791.0 L1206.4,791.0" stroke="#000" stroke-width="1.5" fill="none"/>
<path d="M1197.0,785.5 L1209.4,785.5" stroke="#000" stroke-width="2.3" fill="none"/>
<circle cx="1250.9" cy="762.2" r="4.4" fill="#000"/>
<circle cx="1250.9" cy="770.2" r="4.4" fill="#000"/>
<circle cx="1252.3" cy="778.5" r="4.4" fill="#000"/>
<circle cx="1248.9" cy="785.5" r="4.4" fill="#000"/>
<circle cx="1252.9" cy="790.4" r="4.4" fill="#000"/>
<circle cx="1250.4" cy="787.0" r="4.4" fill="#000"/>
<circle cx="1250.9" cy="814.3" r="4.4" fill="#000"/>
<circle cx="1250.9" cy="822.2" r="4.4" fill="#000"/>
<path d="M1250.9,780.0 L1250.9,795.4 M1247.7,780.0 L1254.1,780.0 M1247.7,795.4 L1254.1,795.4" stroke="#000" stroke-width="1.5" fill="none"/>
<path d="M1244.7,787.5 L1257.1,787.5" stroke="#000" stroke-width="2.3" fill="none"/>
<circle cx="1298.0" cy="798.0" r="4.4" fill="#000"/>
<circle cx="1298.0" cy="806.3" r="4.4" fill="#000"/>
<circle cx="1295.6" cy="819.2" r="4.4" fill="#000"/>
<circle cx="1300.6" cy="819.2" r="4.4" fill="#000"/>
<circle cx="1300.6" cy="825.2" r="4.4" fill="#000"/>
<circle cx="1296.0" cy="830.2" r="4.4" fill="#000"/>
<path d="M1298.0,811.3 L1298.0,822.5 M1294.8,811.3 L1301.2,811.3 M1294.8,822.5 L1301.2,822.5" stroke="#000" stroke-width="1.5" fill="none"/>
<path d="M1291.8,816.9 L1304.2,816.9" stroke="#000" stroke-width="2.3" fill="none"/>
<path d="M935.8,763.2 L935.8,774.0 M932.6,763.2 L939.0,763.2 M932.6,774.0 L939.0,774.0" stroke="#0000ff" stroke-width="1.5" fill="none"/>
<path d="M929.6,768.6 L942.0,768.6" stroke="#000" stroke-width="2.3" fill="none"/>
<path d="M930.4,740.6 L938.8,740.6 L934.6,749.4 Z" fill="#0000ff"/>
<path d="M932.8,743.6 L941.2,743.6 L937.0,752.4 Z" fill="#0000ff"/>
<path d="M929.6,752.4 L938.0,752.4 L933.8,761.1 Z" fill="#0000ff"/>
<path d="M933.6,752.6 L942.0,752.6 L937.8,761.4 Z" fill="#0000ff"/>
<path d="M931.6,755.2 L940.0,755.2 L935.8,764.0 Z" fill="#0000ff"/>
<path d="M930.6,759.2 L939.0,759.2 L934.8,768.0 Z" fill="#0000ff"/>
<path d="M933.0,760.6 L941.4,760.6 L937.2,769.4 Z" fill="#0000ff"/>
<path d="M931.6,763.2 L940.0,763.2 L935.8,772.0 Z" fill="#0000ff"/>
<path d="M931.6,766.2 L940.0,766.2 L935.8,775.0 Z" fill="#0000ff"/>
<path d="M931.6,777.2 L940.0,777.2 L935.8,786.0 Z" fill="#0000ff"/>
<path d="M931.6,786.0 L940.0,786.0 L935.8,794.8 Z" fill="#0000ff"/>
<path d="M931.6,796.2 L940.0,796.2 L935.8,805.0 Z" fill="#0000ff"/>
<text x="935.0" y="718.2" font-size="24" font-weight="700" class="b" text-anchor="middle">n.s.</text>
<path d="M983.2,797.5 L983.2,804.5 M980.0,797.5 L986.4,797.5 M980.0,804.5 L986.4,804.5" stroke="#0000ff" stroke-width="1.5" fill="none"/>
<path d="M977.0,801.0 L989.4,801.0" stroke="#000" stroke-width="2.3" fill="none"/>
<path d="M979.0,782.4 L987.4,782.4 L983.2,791.1 Z" fill="#0000ff"/>
<path d="M980.6,785.1 L989.0,785.1 L984.8,793.9 Z" fill="#0000ff"/>
<path d="M978.0,789.0 L986.4,789.0 L982.2,797.8 Z" fill="#0000ff"/>
<path d="M979.6,793.6 L988.0,793.6 L983.8,802.4 Z" fill="#0000ff"/>
<path d="M977.4,797.0 L985.8,797.0 L981.6,805.8 Z" fill="#0000ff"/>
<path d="M980.6,797.6 L989.0,797.6 L984.8,806.4 Z" fill="#0000ff"/>
<path d="M979.0,801.0 L987.4,801.0 L983.2,809.8 Z" fill="#0000ff"/>
<path d="M979.0,804.6 L987.4,804.6 L983.2,813.4 Z" fill="#0000ff"/>
<path d="M979.0,817.2 L987.4,817.2 L983.2,826.0 Z" fill="#0000ff"/>
<text x="981.9" y="725.4" font-size="25" text-anchor="middle" class="t">*</text>
<path d="M1030.8,706.2 L1030.8,728.0 M1027.6,706.2 L1034.0,706.2 M1027.6,728.0 L1034.0,728.0" stroke="#0000ff" stroke-width="1.5" fill="none"/>
<path d="M1024.6,717.2 L1037.0,717.2" stroke="#000" stroke-width="2.3" fill="none"/>
<path d="M1026.6,654.8 L1035.0,654.8 L1030.8,663.5 Z" fill="#0000ff"/>
<path d="M1026.6,668.0 L1035.0,668.0 L1030.8,676.8 Z" fill="#0000ff"/>
<path d="M1028.0,675.0 L1036.4,675.0 L1032.2,683.8 Z" fill="#0000ff"/>
<path d="M1026.0,682.0 L1034.4,682.0 L1030.2,690.8 Z" fill="#0000ff"/>
<path d="M1026.6,718.4 L1035.0,718.4 L1030.8,727.1 Z" fill="#0000ff"/>
<path d="M1028.0,723.8 L1036.4,723.8 L1032.2,732.5 Z" fill="#0000ff"/>
<path d="M1026.6,728.4 L1035.0,728.4 L1030.8,737.1 Z" fill="#0000ff"/>
<path d="M1026.6,734.6 L1035.0,734.6 L1030.8,743.4 Z" fill="#0000ff"/>
<path d="M1026.0,741.6 L1034.4,741.6 L1030.2,750.4 Z" fill="#0000ff"/>
<path d="M1027.2,747.0 L1035.6,747.0 L1031.4,755.8 Z" fill="#0000ff"/>
<path d="M1026.6,750.6 L1035.0,750.6 L1030.8,759.4 Z" fill="#0000ff"/>
<path d="M1026.6,756.5 L1035.0,756.5 L1030.8,765.2 Z" fill="#0000ff"/>
<text x="1029.2" y="613.1" font-size="22" text-anchor="middle" class="t">&#8224;</text>
<path d="M1078.3,725.0 L1078.3,739.0 M1075.1,725.0 L1081.5,725.0 M1075.1,739.0 L1081.5,739.0" stroke="#0000ff" stroke-width="1.5" fill="none"/>
<path d="M1072.1,732.0 L1084.5,732.0" stroke="#000" stroke-width="2.3" fill="none"/>
<path d="M1074.1,673.0 L1082.5,673.0 L1078.3,681.8 Z" fill="#0000ff"/>
<path d="M1074.1,705.9 L1082.5,705.9 L1078.3,714.6 Z" fill="#0000ff"/>
<path d="M1075.1,720.8 L1083.5,720.8 L1079.3,729.5 Z" fill="#0000ff"/>
<path d="M1072.5,724.8 L1080.9,724.8 L1076.7,733.5 Z" fill="#0000ff"/>
<path d="M1074.7,728.6 L1083.1,728.6 L1078.9,737.4 Z" fill="#0000ff"/>
<path d="M1073.1,734.6 L1081.5,734.6 L1077.3,743.4 Z" fill="#0000ff"/>
<path d="M1075.1,740.6 L1083.5,740.6 L1079.3,749.4 Z" fill="#0000ff"/>
<path d="M1074.1,746.6 L1082.5,746.6 L1078.3,755.4 Z" fill="#0000ff"/>
<path d="M1074.1,750.6 L1082.5,750.6 L1078.3,759.4 Z" fill="#0000ff"/>
<path d="M1074.1,758.5 L1082.5,758.5 L1078.3,767.2 Z" fill="#0000ff"/>
<text x="1077.5" y="613.1" font-size="22" text-anchor="middle" class="t">&#8224;</text>
<path d="M1125.7,800.0 L1125.7,809.4 M1122.5,800.0 L1128.9,800.0 M1122.5,809.4 L1128.9,809.4" stroke="#0000ff" stroke-width="1.5" fill="none"/>
<path d="M1119.5,804.7 L1131.9,804.7" stroke="#000" stroke-width="2.3" fill="none"/>
<path d="M1118.5,790.0 L1126.9,790.0 L1122.7,798.8 Z" fill="#0000ff"/>
<path d="M1124.5,790.0 L1132.9,790.0 L1128.7,798.8 Z" fill="#0000ff"/>
<path d="M1121.5,793.0 L1129.9,793.0 L1125.7,801.8 Z" fill="#0000ff"/>
<path d="M1122.5,796.0 L1130.9,796.0 L1126.7,804.8 Z" fill="#0000ff"/>
<path d="M1121.5,803.9 L1129.9,803.9 L1125.7,812.6 Z" fill="#0000ff"/>
<path d="M1121.5,810.9 L1129.9,810.9 L1125.7,819.6 Z" fill="#0000ff"/>
<path d="M1121.5,822.9 L1129.9,822.9 L1125.7,831.6 Z" fill="#0000ff"/>
<text x="1126.1" y="733.1" font-size="25" text-anchor="middle" class="t">*</text>
<path d="M1173.4,814.0 L1173.4,829.2 M1170.2,814.0 L1176.6,814.0 M1170.2,829.2 L1176.6,829.2" stroke="#0000ff" stroke-width="1.5" fill="none"/>
<path d="M1167.2,821.6 L1179.6,821.6" stroke="#000" stroke-width="2.3" fill="none"/>
<path d="M1169.2,764.2 L1177.6,764.2 L1173.4,773.0 Z" fill="#0000ff"/>
<path d="M1169.2,804.9 L1177.6,804.9 L1173.4,813.6 Z" fill="#0000ff"/>
<path d="M1168.2,810.9 L1176.6,810.9 L1172.4,819.6 Z" fill="#0000ff"/>
<path d="M1170.6,814.4 L1179.0,814.4 L1174.8,823.1 Z" fill="#0000ff"/>
<path d="M1169.2,824.9 L1177.6,824.9 L1173.4,833.6 Z" fill="#0000ff"/>
<path d="M1167.2,828.9 L1175.6,828.9 L1171.4,837.6 Z" fill="#0000ff"/>
<path d="M1171.2,828.9 L1179.6,828.9 L1175.4,837.6 Z" fill="#0000ff"/>
<path d="M1169.2,855.6 L1177.6,855.6 L1173.4,864.4 Z" fill="#0000ff"/>
<text x="1174.4" y="735.1" font-size="25" text-anchor="middle" class="t">*</text>
<path d="M1221.1,776.1 L1221.1,797.8 M1217.9,776.1 L1224.3,776.1 M1217.9,797.8 L1224.3,797.8" stroke="#0000ff" stroke-width="1.5" fill="none"/>
<path d="M1214.9,787.0 L1227.3,787.0" stroke="#000" stroke-width="2.3" fill="none"/>
<path d="M1216.9,741.8 L1225.3,741.8 L1221.1,750.5 Z" fill="#0000ff"/>
<path d="M1216.9,753.2 L1225.3,753.2 L1221.1,762.0 Z" fill="#0000ff"/>
<path d="M1216.9,766.1 L1225.3,766.1 L1221.1,774.9 Z" fill="#0000ff"/>
<path d="M1216.9,783.0 L1225.3,783.0 L1221.1,791.8 Z" fill="#0000ff"/>
<path d="M1214.9,799.9 L1223.3,799.9 L1219.1,808.6 Z" fill="#0000ff"/>
<path d="M1218.5,806.5 L1226.9,806.5 L1222.7,815.2 Z" fill="#0000ff"/>
<path d="M1216.9,820.9 L1225.3,820.9 L1221.1,829.6 Z" fill="#0000ff"/>
<text x="1225.0" y="709.0" font-size="24" font-weight="700" class="b" text-anchor="middle">n.s.</text>
<path d="M1268.2,801.5 L1268.2,812.0 M1265.0,801.5 L1271.4,801.5 M1265.0,812.0 L1271.4,812.0" stroke="#0000ff" stroke-width="1.5" fill="none"/>
<path d="M1262.0,806.7 L1274.4,806.7" stroke="#000" stroke-width="2.3" fill="none"/>
<path d="M1264.0,769.1 L1272.4,769.1 L1268.2,777.9 Z" fill="#0000ff"/>
<path d="M1264.0,793.0 L1272.4,793.0 L1268.2,801.8 Z" fill="#0000ff"/>
<path d="M1264.0,798.9 L1272.4,798.9 L1268.2,807.6 Z" fill="#0000ff"/>
<path d="M1264.0,806.9 L1272.4,806.9 L1268.2,815.6 Z" fill="#0000ff"/>
<path d="M1265.0,811.9 L1273.4,811.9 L1269.2,820.6 Z" fill="#0000ff"/>
<path d="M1262.0,814.9 L1270.4,814.9 L1266.2,823.6 Z" fill="#0000ff"/>
<path d="M1266.0,814.9 L1274.4,814.9 L1270.2,823.6 Z" fill="#0000ff"/>
<path d="M1263.0,817.9 L1271.4,817.9 L1267.2,826.6 Z" fill="#0000ff"/>
<text x="1267.8" y="742.4" font-size="25" text-anchor="middle" class="t">*</text>
<path d="M1315.9,825.6 L1315.9,832.8 M1312.7,825.6 L1319.1,825.6 M1312.7,832.8 L1319.1,832.8" stroke="#0000ff" stroke-width="1.5" fill="none"/>
<path d="M1309.7,829.2 L1322.1,829.2" stroke="#000" stroke-width="2.3" fill="none"/>
<path d="M1311.7,814.9 L1320.1,814.9 L1315.9,823.6 Z" fill="#0000ff"/>
<path d="M1312.3,817.9 L1320.7,817.9 L1316.5,826.6 Z" fill="#0000ff"/>
<path d="M1311.7,826.9 L1320.1,826.9 L1315.9,835.6 Z" fill="#0000ff"/>
<path d="M1309.3,829.8 L1317.7,829.8 L1313.5,838.5 Z" fill="#0000ff"/>
<path d="M1314.3,829.8 L1322.7,829.8 L1318.5,838.5 Z" fill="#0000ff"/>
<path d="M1311.7,831.8 L1320.1,831.8 L1315.9,840.5 Z" fill="#0000ff"/>
<text x="1316.0" y="769.6" font-size="24" font-weight="700" class="b" text-anchor="middle">n.s.</text>
<rect x="908.3" y="587" width="174.7" height="350.2" fill="none" stroke="#000" stroke-width="2.7" stroke-dasharray="7.6 2.4"/>
</g>
</svg></body></html>
